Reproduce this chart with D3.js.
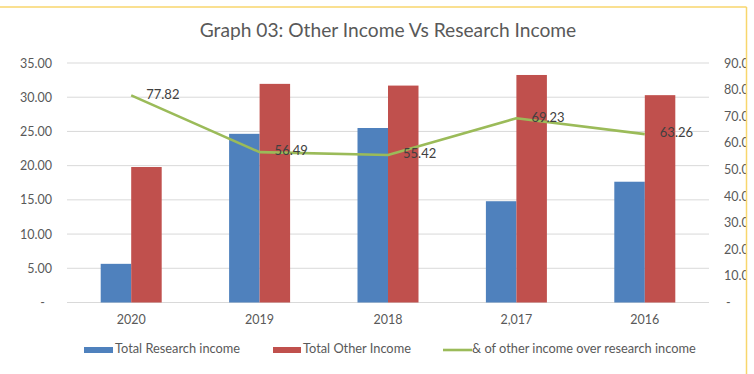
<!DOCTYPE html>
<html><head><meta charset="utf-8">
<script src="https://cdn.jsdelivr.net/npm/d3@7"></script>
<style>
html,body{margin:0;padding:0;background:#fff;}
svg{display:block;font-family:Lato,"Open Sans",sans-serif;}
</style></head>
<body>
<svg id="chart" width="754" height="374"></svg>
<script>
const categories = ["2020", "2019", "2018", "2,017", "2016"];
const researchIncome = [5.65, 24.65, 25.5, 14.8, 17.65];
const otherIncome = [19.8, 31.95, 31.7, 33.25, 30.3];
const ratio = [77.82, 56.49, 55.42, 69.23, 63.26];
const leftTicks = [0, 5, 10, 15, 20, 25, 30, 35];
const rightTicks = [0, 10, 20, 30, 40, 50, 60, 70, 80, 90];
const seriesNames = ["Total Research income", "Total Other Income", "& of other income over research income"];
const title = "Graph 03: Other Income Vs Research Income";

const svg = d3.select("#chart");
const W = 754, H = 374;
const plot = {left: 67, right: 709, top: 63, bottom: 302.5};
const colors = {blue: "#4f81bd", red: "#c0504d", green: "#9bbb59", grid: "#d9d9d9", text: "#595959", label: "#404040"};

svg.append("defs").append("clipPath").attr("id", "frame")
  .append("rect").attr("x", 0).attr("y", 0).attr("width", 746).attr("height", H);
const g = svg.append("g").attr("clip-path", "url(#frame)");

const x = d3.scaleBand().domain(categories).range([plot.left, plot.right]).padding(0);
const yL = d3.scaleLinear().domain([0, 35]).range([plot.bottom, plot.top]);
const yR = d3.scaleLinear().domain([0, 90]).range([plot.bottom, plot.top]);
const barW = 30.5;

// title
g.append("text").attr("x", 388).attr("y", 32).attr("text-anchor", "middle")
  .attr("dominant-baseline", "middle").attr("font-size", 19.2).attr("fill", colors.text).text(title);

// gridlines
g.append("g").selectAll("line").data(leftTicks).join("line")
  .attr("x1", plot.left).attr("x2", plot.right)
  .attr("y1", d => yL(d)).attr("y2", d => yL(d))
  .attr("stroke", colors.grid).attr("stroke-width", 1);

// left axis
const fmtL = d => d === 0 ? "-" : d3.format(".2f")(d);
const leftAxis = d3.axisLeft(yL).tickValues(leftTicks).tickFormat(fmtL).tickSize(0).tickPadding(0);
const la = g.append("g").attr("transform", `translate(52,0)`).call(leftAxis);
la.select(".domain").remove();
la.selectAll("text").attr("font-size", 12.5).attr("fill", colors.text).attr("font-family", "Lato,'Open Sans',sans-serif")
  .attr("dx", d => d === 0 ? -7 : 0);

// right axis
const fmtR = d => d === 0 ? "-" : d3.format(".2f")(d);
const rightAxis = d3.axisRight(yR).tickValues(rightTicks).tickFormat(fmtR).tickSize(0).tickPadding(0);
const ra = g.append("g").attr("transform", `translate(724,0)`).call(rightAxis);
ra.select(".domain").remove();
ra.selectAll("text").attr("font-size", 12.5).attr("fill", colors.text).attr("font-family", "Lato,'Open Sans',sans-serif")
  .attr("dx", d => d === 0 ? 2 : 0);

// bars
g.append("g").selectAll("rect").data(categories).join("rect")
  .attr("x", d => x(d) + x.bandwidth() / 2 - barW)
  .attr("y", (d, i) => yL(researchIncome[i]))
  .attr("width", barW)
  .attr("height", (d, i) => yL(0) - yL(researchIncome[i]))
  .attr("fill", colors.blue);
g.append("g").selectAll("rect").data(categories).join("rect")
  .attr("x", d => x(d) + x.bandwidth() / 2)
  .attr("y", (d, i) => yL(otherIncome[i]))
  .attr("width", barW)
  .attr("height", (d, i) => yL(0) - yL(otherIncome[i]))
  .attr("fill", colors.red);

// x axis labels
const xAxis = d3.axisBottom(x).tickSize(0).tickPadding(0);
const xa = g.append("g").attr("transform", `translate(0,320)`).call(xAxis);
xa.select(".domain").remove();
xa.selectAll("text").attr("font-size", 12.5).attr("fill", colors.text).attr("font-family", "Lato,'Open Sans',sans-serif")
  .attr("dy", "0.35em").attr("y", 0);

// line
const line = d3.line().x((d, i) => x(categories[i]) + x.bandwidth() / 2).y(d => yR(d));
g.append("path").datum(ratio).attr("d", line).attr("fill", "none")
  .attr("stroke", colors.green).attr("stroke-width", 2.6).attr("stroke-linejoin", "round");

// data labels
g.append("g").selectAll("text").data(ratio).join("text")
  .attr("x", (d, i) => x(categories[i]) + x.bandwidth() / 2 + 15)
  .attr("y", d => yR(d))
  .attr("dominant-baseline", "middle")
  .attr("font-size", 13).attr("fill", colors.label)
  .text(d => d3.format(".2f")(d));

// legend
const ly = 350;
const leg = g.append("g");
leg.append("rect").attr("x", 84).attr("y", ly - 3).attr("width", 29).attr("height", 6).attr("fill", colors.blue);
leg.append("text").attr("x", 115).attr("y", ly).attr("dominant-baseline", "middle").attr("font-size", 12.8).attr("fill", colors.text).text(seriesNames[0]);
leg.append("rect").attr("x", 273).attr("y", ly - 3).attr("width", 28).attr("height", 6).attr("fill", colors.red);
leg.append("text").attr("x", 303).attr("y", ly).attr("dominant-baseline", "middle").attr("font-size", 12.8).attr("fill", colors.text).text(seriesNames[1]);
leg.append("line").attr("x1", 443).attr("x2", 472).attr("y1", ly).attr("y2", ly).attr("stroke", colors.green).attr("stroke-width", 2.6);
leg.append("text").attr("x", 472).attr("y", ly).attr("dominant-baseline", "middle").attr("font-size", 12.8).attr("fill", colors.text).text(seriesNames[2]);

// frame (yellow border, top and right visible)
svg.append("line").attr("x1", 0).attr("x2", 746.5).attr("y1", 7).attr("y2", 7).attr("stroke", "#f8d66c").attr("stroke-width", 1.5);
svg.append("line").attr("x1", 746.5).attr("x2", 746.5).attr("y1", 7).attr("y2", H).attr("stroke", "#f8d66c").attr("stroke-width", 1.5);
</script>
</body></html>
